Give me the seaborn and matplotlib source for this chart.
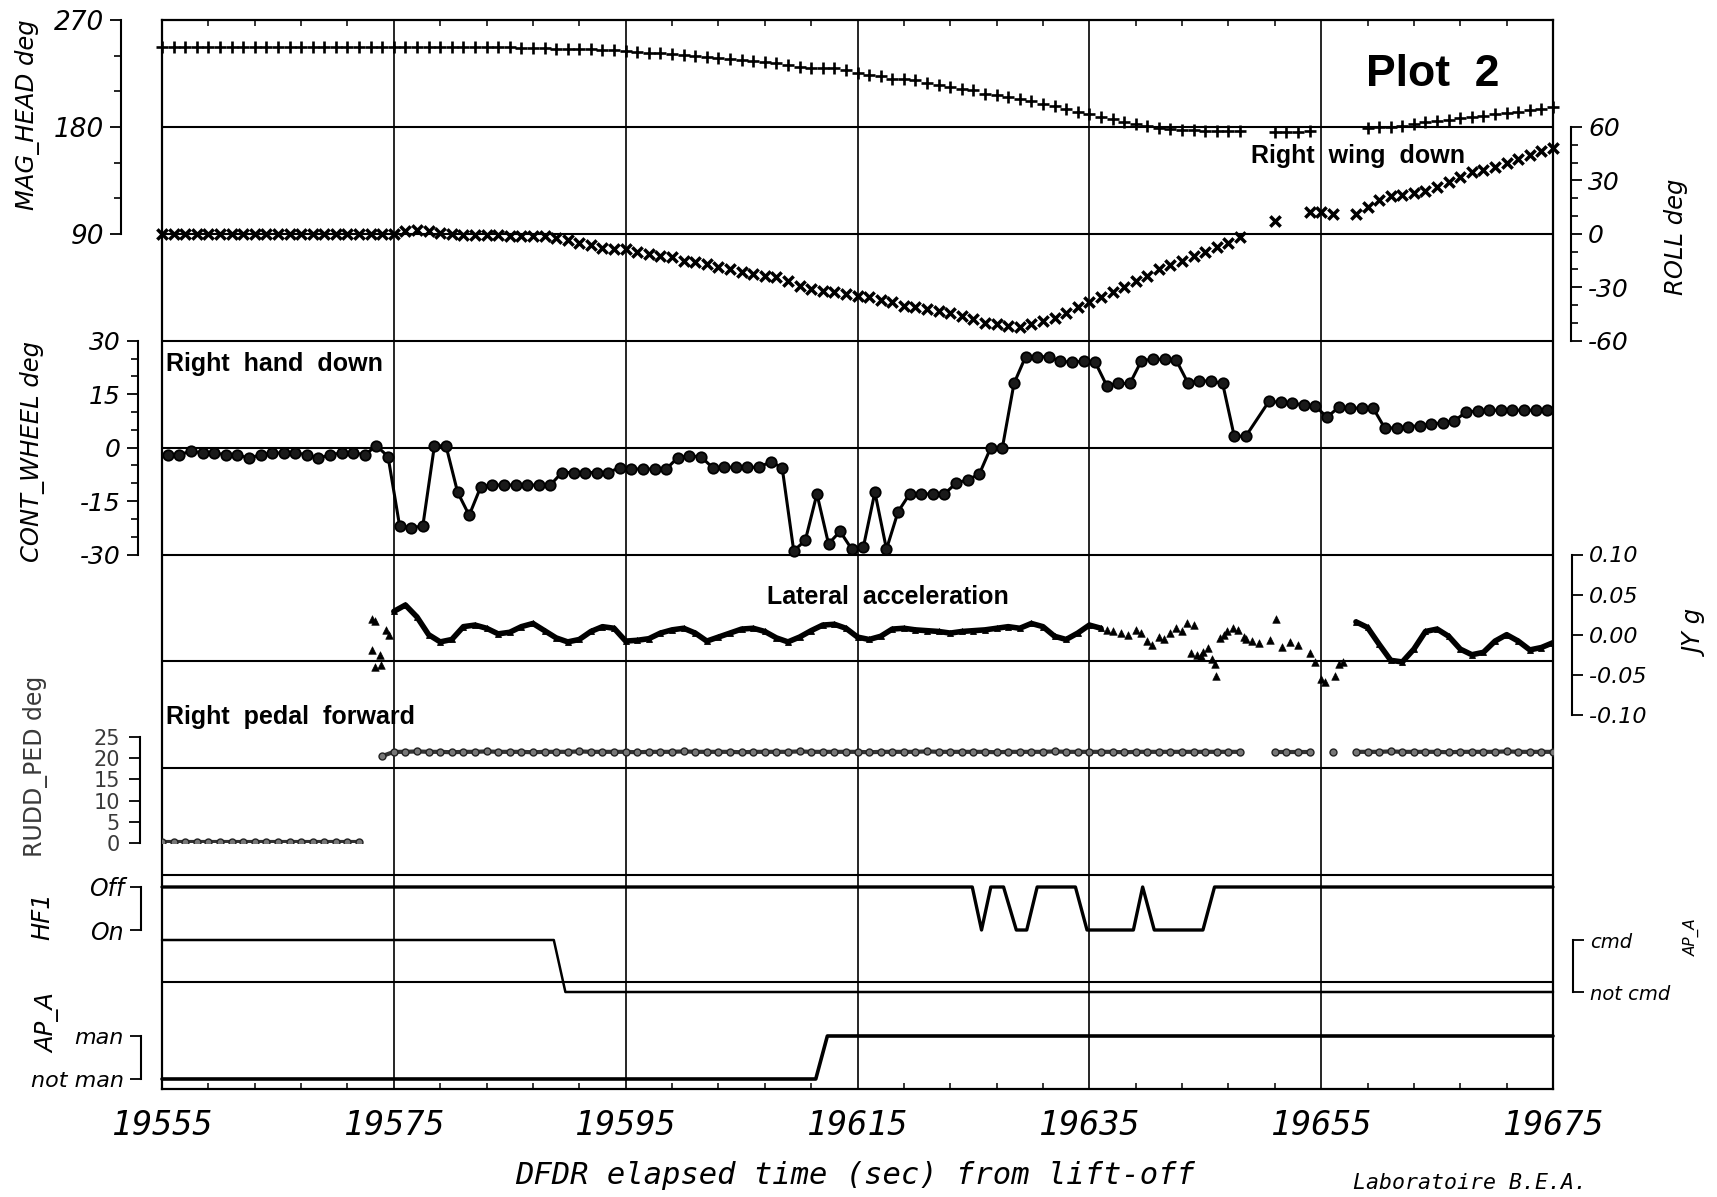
import numpy as np
import pandas as pd
import matplotlib
matplotlib.use("Agg")
import matplotlib.pyplot as plt
import seaborn as sns

sns.set_style("white")
plt.rcParams["font.family"] = ["DejaVu Sans"]
plt.rcParams["axes.unicode_minus"] = False
for key in ("text.color", "axes.labelcolor", "xtick.color", "ytick.color",
            "axes.edgecolor"):
    plt.rcParams[key] = "black"

nan = np.nan

# ---------------------------------------------------------------- data
x_major = [19555, 19575, 19595, 19615, 19635, 19655, 19675]
x_labels = ["19555", "19575", "19595", "19615", "19635", "19655", "19675"]

sec = np.arange(19555, 19676)          # 1 Hz sample times

mag_head = [
    247, 247, 247, 247, 247, 247, 247, 247, 247, 247,
    247, 247, 247, 247, 247, 247, 247, 247, 247, 247,
    247, 247, 247, 247, 247, 247, 247, 247, 247, 247,
    247, 246.8, 246.6, 246.3, 246.0, 245.8, 245.5, 245.3, 245.0, 244.5,
    244.0, 243.2, 242.4, 241.8, 241.3, 240.4, 239.6, 238.5, 237.6, 236.8,
    236.2, 235.4, 234.8, 233.4, 232.0, 230.6, 230.0, 229.7, 229.2, 227.8,
    225.5, 223.5, 222.7, 220.7, 220.1, 219.3, 217.0, 215.1, 213.6, 212.3,
    210.8, 208.0, 206.6, 205.2, 203.2, 201.6, 199.6, 197.3, 195.4, 192.5,
    191.2, 188.3, 186.3, 184.1, 182.1, 180.4, 179.3, 178.5, 177.6, 177.0,
    176.8, 176.6, 176.5, 176.5, nan, nan, 176.0, 176.0, 176.0, 176.2,
    nan, nan, nan, nan, 179.0, 179.5, 180.0, 181.0, 182.5, 184.0,
    185.0, 186.0, 187.3, 188.5, 189.5, 190.5, 191.5, 192.7, 194.0, 195.3,
    196.5,
]

roll = [
    0, 0, 0, 0, 0, 0, 0, 0, 0, 0,
    0, 0, 0, 0, 0, 0, 0, 0, 0, 0,
    0, 1.5, 2.2, 1.5, 0.5, 0.0, -0.5, -0.5, -0.5, -0.8,
    -1.0, -1.0, -1.2, -1.5, -2.5, -3.5, -5.0, -6.5, -8.0, -8.4,
    -8.6, -10.3, -11.3, -12.2, -13.2, -15.1, -16.0, -17.0, -18.8, -19.7,
    -21.6, -22.5, -23.5, -24.4, -26.3, -29.1, -31.0, -32.3, -32.8, -33.8,
    -34.7, -35.7, -37.0, -38.5, -40.4, -41.3, -42.3, -43.2, -44.5, -46.0,
    -47.9, -49.8, -50.7, -51.7, -52.2, -50.7, -48.8, -47.0, -44.2, -41.3,
    -38.5, -35.7, -32.8, -30.0, -26.3, -23.5, -20.0, -17.5, -15.0, -12.5,
    -10.0, -7.5, -5.0, -2.0, nan, nan, 7.3, nan, nan, 12.4,
    12.4, 11.0, nan, 11.0, 15.0, 19.0, 21.0, 22.0, 23.0, 24.0,
    26.5, 29.0, 32.0, 34.5, 36.0, 37.5, 39.5, 42.0, 44.5, 46.5,
    48.0,
]

cont_time = np.arange(19555.5, 19675.0, 1.0)
cont_wheel = [
    -2, -2, -1, -1.5, -1.5, -2, -2, -3, -2, -1.5,
    -1.5, -1.5, -2, -3, -2, -1.5, -1.5, -2, 0.5, -2.5,
    -22, -22.5, -22, 0.5, 0.5, -12.5, -19, -11, -10.5, -10.5,
    -10.5, -10.5, -10.5, -10.5, -7, -7, -7, -7, -7, -5.6,
    -6, -6, -6, -6, -2.8, -2.3, -2.6, -5.6, -5.5, -5.5,
    -5.5, -5.5, -4, -5.6, -29, -26, -13, -27, -23.5, -28.5,
    -28, -12.5, -28.5, -18, -13, -13, -13, -13, -10, -9,
    -7.5, 0, 0, 18, 25.5, 25.5, 25.5, 24.2, 24, 24.2,
    24, 17.4, 18, 18, 24.4, 24.8, 24.8, 24.5, 18.2, 18.7,
    18.7, 18, 3.2, 3.2, nan, 13, 12.7, 12.4, 12, 11.7,
    8.5, 11.3, 11.2, 11, 11, 5.4, 5.6, 5.8, 6.2, 6.6,
    7, 7.5, 10, 10.3, 10.5, 10.5, 10.5, 10.5, 10.5, 10.5,
]

jy_time_a = np.arange(19575, 19637)
jy_a = [
    0.029, 0.037, 0.022, 0.000, -0.009, -0.006, 0.010, 0.012, 0.008, 0.001,
    0.003, 0.010, 0.014, 0.005, -0.004, -0.009, -0.006, 0.004, 0.010, 0.008,
    -0.008, -0.007, -0.005, 0.002, 0.006, 0.008, 0.002, -0.008, -0.003, 0.002,
    0.007, 0.008, 0.004, -0.004, -0.009, -0.003, 0.005, 0.012, 0.013, 0.008,
    -0.003, -0.006, -0.002, 0.007, 0.008, 0.006, 0.005, 0.004, 0.002, 0.004,
    0.005, 0.006, 0.008, 0.010, 0.008, 0.014, 0.010, -0.002, -0.006, 0.002,
    0.012, 0.008,
]
jy_time_b = np.arange(19658, 19676)
jy_b = [
    0.016, 0.009, -0.012, -0.032, -0.034, -0.018, 0.004, 0.007, -0.002, -0.018,
    -0.025, -0.022, -0.008, 0.000, -0.008, -0.019, -0.016, -0.010,
]
jy_scatter_time = [
    19573.1, 19573.4, 19574.3, 19574.6, 19573.1, 19573.8, 19573.4, 19573.9,
    19636.5, 19637.0, 19637.7, 19638.3, 19639.0, 19639.5, 19640.0, 19640.4,
    19641.0, 19641.4, 19642.0, 19642.5, 19643.0, 19643.4, 19643.8, 19644.0,
    19644.3, 19644.6, 19644.8, 19645.2, 19645.6, 19645.8, 19645.9, 19646.3,
    19646.6, 19646.9, 19647.4, 19647.8, 19648.3, 19648.5, 19649.0, 19649.6,
    19650.6, 19651.1, 19651.6, 19652.3, 19653.0, 19654.0, 19654.5, 19655.0,
    19655.3, 19656.2, 19656.5, 19656.9,
]
jy_scatter = [
    0.020, 0.017, 0.006, 0.000, -0.019, -0.025, -0.040, -0.038,
    0.006, 0.005, 0.002, 0.000, 0.006, 0.002, -0.008, -0.013,
    -0.003, -0.005, 0.002, 0.008, 0.004, 0.014, -0.023, 0.012,
    -0.025, -0.027, -0.022, -0.017, -0.030, -0.036, -0.052, -0.004,
    0.000, 0.004, 0.008, 0.006, -0.003, -0.005, -0.008, -0.010,
    -0.007, 0.020, -0.015, -0.009, -0.013, -0.023, -0.034, -0.055,
    -0.059, -0.052, -0.036, -0.034,
]

rudd_ped = [
    0.3, 0.3, 0.3, 0.3, 0.3, 0.3, 0.3, 0.3, 0.3, 0.3,
    0.3, 0.3, 0.3, 0.3, 0.3, 0.3, 0.3, 0.3, nan, 20.5,
    21.5, 21.5, 21.6, 21.5, 21.5, 21.4, 21.5, 21.5, 21.6, 21.5,
    21.5, 21.5, 21.4, 21.5, 21.5, 21.5, 21.6, 21.5, 21.5, 21.5,
    21.5, 21.4, 21.5, 21.5, 21.5, 21.6, 21.5, 21.5, 21.5, 21.5,
    21.4, 21.5, 21.5, 21.5, 21.5, 21.6, 21.5, 21.5, 21.5, 21.5,
    21.5, 21.4, 21.5, 21.5, 21.5, 21.5, 21.6, 21.5, 21.5, 21.5,
    21.5, 21.5, 21.4, 21.5, 21.5, 21.5, 21.5, 21.6, 21.5, 21.5,
    21.5, 21.5, 21.5, 21.4, 21.5, 21.5, 21.5, 21.5, 21.5, 21.5,
    21.5, 21.5, 21.5, 21.5, nan, nan, 21.5, 21.5, 21.5, 21.5,
    nan, 21.5, nan, 21.5, 21.5, 21.5, 21.6, 21.5, 21.5, 21.5,
    21.5, 21.4, 21.5, 21.5, 21.5, 21.5, 21.6, 21.5, 21.5, 21.5,
    21.5,
]

hf1_time = [19555, 19624.9, 19625.7, 19626.5, 19627.6, 19628.7, 19629.6, 19630.5,
            19633.8, 19634.8, 19638.8, 19639.6, 19640.6, 19644.8, 19645.8, 19675]
hf1_state = [1, 1, 0, 1, 1, 0, 0, 1, 1, 0, 0, 1, 0, 0, 1, 1]   # 1 = Off, 0 = On

apa_cmd_time = [19555, 19588.8, 19589.8, 19675]
apa_cmd_state = [1, 1, 0, 0]                                   # 1 = cmd
apa_man_time = [19555, 19611.4, 19612.4, 19675]
apa_man_state = [0, 0, 1, 1]                                   # 1 = man

# ---------------------------------------------------------------- layout
W, H, DPI = 1717, 1197, 100
L, R, TOP, BOT = 162, 1553, 20, 1089
BAND = (BOT - TOP) / 10.0
XLIM = (19555, 19675)


def rect(t, b):
    return [L / W, 1 - b / H, (R - L) / W, (b - t) / H]


def yb(k):
    return TOP + k * BAND


def pt(px):
    return px * 72.0 / DPI


def ftxt(x, y, s, **kw):
    kw.setdefault("color", "black")
    fig.text(x / W, 1 - y / H, s, **kw)


fig = plt.figure(figsize=(W / DPI, H / DPI), dpi=DPI)
fig.patch.set_facecolor("white")

main = fig.add_axes(rect(TOP, BOT))
main.set_facecolor("white")
main.set_xlim(*XLIM)
main.set_ylim(10, 0)
for k in range(1, 10):
    main.axhline(k, color="black", lw=1.5)
for x in x_major[1:-1]:
    main.axvline(x, color="black", lw=1.2)
for s in main.spines.values():
    s.set_visible(True)
    s.set_linewidth(1.6)
    s.set_color("black")
main.set_yticks([])
main.set_xticks(x_major, labels=x_labels, fontsize=24, color="black",
                fontfamily="DejaVu Sans Mono", fontstyle="oblique")
main.set_xticks(np.arange(19555, 19676, 4), minor=True)
main.tick_params(axis="x", which="major", length=0, pad=pt(20), top=False, bottom=True)
main.tick_params(axis="x", which="minor", direction="in", length=pt(6), width=1.1,
                 top=True, bottom=True, color="black")


def panel(t, b, side, offset_px, ticks, labels, minor=None, size=18, style="italic",
          pad=6, lcolor="black"):
    ax = fig.add_axes(rect(t, b))
    ax.patch.set_alpha(0)
    for s in ax.spines.values():
        s.set_visible(False)
    sp = ax.spines[side]
    sp.set_visible(True)
    sp.set_linewidth(1.5)
    sp.set_color("black")
    sp.set_position(("outward", pt(offset_px)))
    ax.tick_params(axis="x", which="both", bottom=False, top=False,
                   labelbottom=False, labeltop=False)
    left = side == "left"
    ax.tick_params(axis="y", which="both", left=left, right=not left,
                   labelleft=left, labelright=not left, direction="out",
                   color="black", labelcolor=lcolor)
    ax.set_yticks(ticks, labels=labels, fontsize=size, fontstyle=style)
    if minor is not None:
        ax.set_yticks(minor, minor=True)
    ax.tick_params(axis="y", which="major", length=pt(11), width=1.3, pad=pt(pad))
    ax.tick_params(axis="y", which="minor", length=pt(7), width=1.2)
    return ax


def finish(ax, ylim):
    ax.set_xlim(*XLIM)
    ax.set_ylim(*ylim)
    ax.set_xlabel("")
    ax.set_ylabel("")


# --- MAG_HEAD (left) ---
ax_head = panel(yb(0), yb(2), "left", 41, [90, 180, 270], ["90", "180", "270"],
                minor=[120, 150, 210, 240], size=19)
sns.scatterplot(x=sec, y=mag_head, ax=ax_head, marker="+", s=80, linewidth=1.9,
                color="black", clip_on=False)
finish(ax_head, (90, 270))

# --- ROLL (right) ---
ax_roll = panel(yb(1), yb(3), "right", 18, [-60, -30, 0, 30, 60],
                ["-60", "-30", "0", "30", "60"],
                minor=[-50, -40, -20, -10, 10, 20, 40, 50])
sns.scatterplot(x=sec, y=roll, ax=ax_roll, marker="x", s=55, linewidth=2.5,
                color="black", clip_on=False)
finish(ax_roll, (-60, 60))

# --- CONT_WHEEL (left) ---
ax_cont = panel(yb(3), yb(5), "left", 24, [-30, -15, 0, 15, 30],
                ["-30", "-15", "0", "15", "30"],
                minor=[-25, -20, -10, -5, 5, 10, 20, 25])
sns.lineplot(x=cont_time, y=cont_wheel, ax=ax_cont, color="black", lw=2.2,
             marker="o", markersize=7.5, markerfacecolor="#1a1a1a",
             markeredgecolor="black", markeredgewidth=1.3,
             estimator=None, sort=False, clip_on=False)
finish(ax_cont, (-30, 30))

# --- JY (right) ---
ax_jy = panel(yb(5), yb(6.5), "right", 19, [-0.10, -0.05, 0.0, 0.05, 0.10],
              ["-0.10", "-0.05", "0.00", "0.05", "0.10"], size=16)
for tt, vv in ((jy_time_a, jy_a), (jy_time_b, jy_b)):
    sns.lineplot(x=tt, y=vv, ax=ax_jy, color="black", lw=4.0, marker="^",
                 markersize=5, markerfacecolor="black", markeredgecolor="black",
                 markeredgewidth=0.6, estimator=None, sort=False)
sns.scatterplot(x=jy_scatter_time, y=jy_scatter, ax=ax_jy, marker="^", s=30,
                color="black", edgecolor="black", linewidth=0.4)
finish(ax_jy, (-0.10, 0.10))

# --- RUDD_PED (left) ---
ax_rudd = panel(737, 843, "left", 22, [0, 5, 10, 15, 20, 25],
                ["0", "5", "10", "15", "20", "25"], size=15, style="normal", pad=9,
                lcolor="#3a3a3a")
rudd_df = pd.DataFrame({"t": sec, "v": rudd_ped})
rudd_df["seg"] = np.cumsum(rudd_df["v"].isna().to_numpy())
rudd_df = rudd_df.dropna()
sns.lineplot(data=rudd_df, x="t", y="v", units="seg", estimator=None, ax=ax_rudd,
             color="#333333", lw=3.0, marker="o", markersize=5.0,
             markerfacecolor="#777777", markeredgecolor="#222222", markeredgewidth=1.0,
             sort=False)
finish(ax_rudd, (0, 25))

# --- HF1 (left) ---
ax_hf1 = panel(887, 930, "left", 21, [0, 1], ["On", "Off"], size=17)
sns.lineplot(x=hf1_time, y=hf1_state, ax=ax_hf1, color="black", lw=2.4,
             estimator=None, sort=False, clip_on=False)
finish(ax_hf1, (0, 1))

# --- AP_A cmd (right) ---
ax_cmd = panel(940, 992, "right", 20, [0, 1], ["not cmd", "cmd"], size=14)
sns.lineplot(x=apa_cmd_time, y=apa_cmd_state, ax=ax_cmd, color="black", lw=1.8,
             estimator=None, sort=False, clip_on=False)
finish(ax_cmd, (0, 1))

# --- AP_A man (left) ---
ax_man = panel(1036, 1079, "left", 21, [0, 1], ["not man", "man"], size=16)
sns.lineplot(x=apa_man_time, y=apa_man_state, ax=ax_man, color="black", lw=2.6,
             estimator=None, sort=False, clip_on=False)
finish(ax_man, (0, 1))

# ---------------------------------------------------------------- texts
lab = dict(rotation=90, ha="center", va="center", fontstyle="italic", fontsize=17.5)
ftxt(27, 115, "MAG_HEAD deg", **lab)
ftxt(33, 452, "CONT_WHEEL deg", **lab)
ftxt(36, 766, "RUDD_PED deg", rotation=90, ha="center", va="center", fontsize=17,
     color="#3a3a3a")
ftxt(42, 916, "HF1", **lab)
ftxt(48, 1023, "AP_A", **lab)
ftxt(1676, 237, "ROLL deg", **lab)
ftxt(1697, 633, "JY g", **lab)
ftxt(1692, 937, "AP_A", rotation=90, ha="center", va="center", fontstyle="italic",
     fontsize=11)

bold = dict(fontfamily="Liberation Sans", fontweight="bold", fontsize=18, va="center")
ftxt(1433, 74, "Plot  2", fontfamily="Liberation Sans", fontweight="bold",
     fontsize=32, ha="center", va="center")
ftxt(1358, 156, "Right  wing  down", ha="center", **bold)
ftxt(166, 364, "Right  hand  down", ha="left", **bold)
ftxt(888, 597, "Lateral  acceleration", ha="center", **bold)
ftxt(166, 717, "Right  pedal  forward", ha="left", **bold)

ftxt(855, 1175, "DFDR elapsed time (sec) from lift-off", fontsize=22,
     fontfamily="DejaVu Sans Mono", fontstyle="oblique", ha="center", va="center")
ftxt(1470, 1183, "Laboratoire B.E.A.", fontsize=15.5,
     fontfamily="DejaVu Sans Mono", fontstyle="oblique", ha="center", va="center")

fig.savefig("out.png", dpi=DPI, facecolor="white")
